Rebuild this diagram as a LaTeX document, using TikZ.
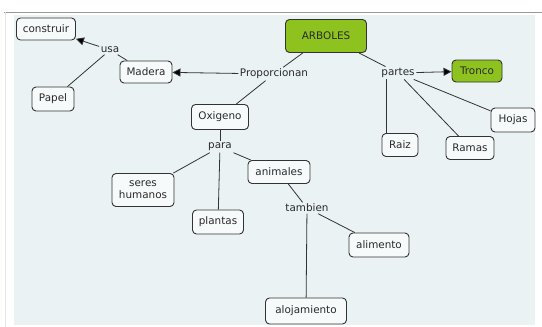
\documentclass[tikz,border=0pt]{standalone}
\usepackage{fontspec}
\setmainfont{DejaVu Sans}
\usetikzlibrary{arrows.meta}
\definecolor{pagebg}{HTML}{EAF2F4}
\definecolor{boxfill}{HTML}{F7FAFA}
\definecolor{edgecol}{HTML}{333333}
\definecolor{leaf}{HTML}{8DC21F}
\definecolor{txt}{HTML}{2A2A2A}
\tikzset{
  concept/.style={draw=edgecol, line width=0.9pt, rounded corners=4pt, fill=boxfill,
    text=txt, inner sep=0pt, align=center, font=\fontsize{10.4}{12}\selectfont},
  keyconcept/.style={concept, fill=leaf},
  linkword/.style={inner sep=1.5pt, text=txt, font=\fontsize{10.4}{12}\selectfont},
  link/.style={draw=edgecol, line width=0.8pt},
  arrowlink/.style={link, -{Triangle[length=8pt,width=8pt,fill=black]}}
}
\begin{document}
\begin{tikzpicture}[x=1pt,y=-1pt]
  % page and canvas
  \useasboundingbox (0,0) rectangle (542,327);
  \fill[white] (0,0) rectangle (542,327);
  \fill[pagebg] (14,15) rectangle (535,325);
  \draw[gray!80, line width=1pt] (4,12) -- (542,12);
  \draw[gray!20, line width=0.6pt] (5,12) -- (5,327);

  % concepts
  \node[keyconcept, minimum width=81pt, minimum height=33pt] (arboles) at (326,36) {ARBOLES};
  \node[keyconcept, minimum width=50pt, minimum height=22pt] (tronco) at (477,71) {Tronco};
  \node[concept, minimum width=59pt, minimum height=22pt] (construir) at (46,29) {construir};
  \node[concept, minimum width=52pt, minimum height=22pt] (madera) at (146,72) {Madera};
  \node[concept, minimum width=42pt, minimum height=24pt] (papel) at (53,99) {Papel};
  \node[concept, minimum width=57pt, minimum height=25pt] (oxigeno) at (220,117) {Oxigeno};
  \node[concept, minimum width=44pt, minimum height=24pt] (hojas) at (513,120) {Hojas};
  \node[concept, minimum width=36pt, minimum height=23pt] (raiz) at (400,145) {Raiz};
  \node[concept, minimum width=48pt, minimum height=23pt] (ramas) at (470,148) {Ramas};
  \node[concept, minimum width=62pt, minimum height=33pt] (seres) at (143,190) {seres\\humanos};
  \node[concept, minimum width=51pt, minimum height=24pt] (plantas) at (218,222) {plantas};
  \node[concept, minimum width=62pt, minimum height=23pt] (animales) at (279,172) {animales};
  \node[concept, minimum width=60pt, minimum height=24pt] (alimento) at (379,245) {alimento};
  \node[concept, minimum width=81pt, minimum height=26pt] (alojamiento) at (306,311) {alojamiento};

  % linking words
  \node[linkword] (proporcionan) at (274,74) {Proporcionan};
  \node[linkword] (usa) at (110,50) {usa};
  \node[linkword] (partes) at (398,73) {partes};
  \node[linkword] (para) at (220,147) {para};
  \node[linkword] (tambien) at (307,208) {tambien};

  % links
  \draw[link] (arboles) -- (proporcionan);
  \draw[arrowlink] (proporcionan) -- (madera);
  \draw[link] (proporcionan) -- (oxigeno);
  \draw[link] (madera) -- (usa);
  \draw[arrowlink] (usa) -- (construir);
  \draw[link] (usa) -- (papel);

  \draw[link] (arboles) -- (partes);
  \draw[arrowlink] (partes) -- (tronco);
  \draw[link, line width=1.5pt] (partes.south west) ++(7,0) coordinate (praiz) -- (praiz |- raiz.north);
  \draw[link] (partes) -- (ramas);
  \draw[link] (partes) -- (hojas);

  \draw[link] (oxigeno) -- (para);
  \draw[link] (para) -- (seres);
  \draw[link] (para) -- (plantas);
  \draw[link] (para) -- (animales);

  \draw[link] (animales) -- (tambien);
  \draw[link] (tambien) -- (alimento);
  \draw[link] (tambien) -- (alojamiento);
\end{tikzpicture}
\end{document}
